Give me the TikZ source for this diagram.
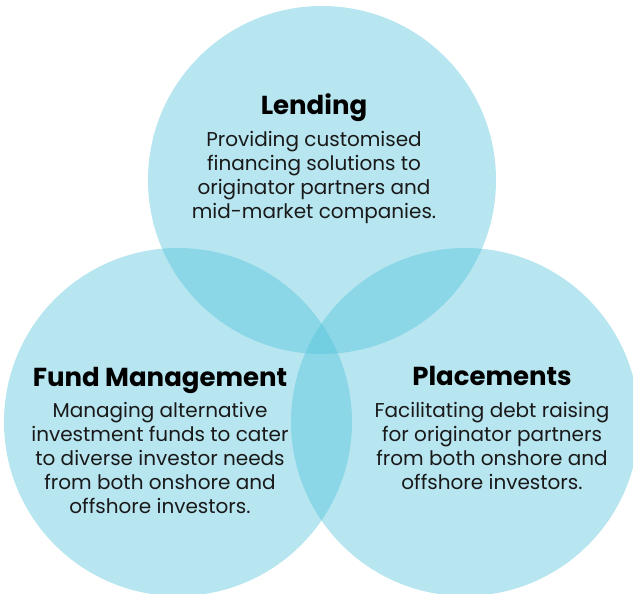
\documentclass[tikz,border=0pt]{standalone}
\usepackage{fontspec}
\setmainfont{Poppins}
\usetikzlibrary{positioning}
\definecolor{vennBlue}{RGB}{75,192,217}
\definecolor{vennInk}{RGB}{25,25,25}

\tikzset{
  venn/.style={circle, fill=vennBlue, fill opacity=0.4, minimum size=348pt, inner sep=0pt},
  areaTitle/.style={font=\fontsize{26}{28}\selectfont\bfseries, text=black, inner sep=0pt, anchor=base},
  areaText/.style={font=\fontsize{20}{23.8}\selectfont, align=center, text=vennInk, inner sep=0pt}
}

\begin{document}
\begin{tikzpicture}[x=1pt, y=-1pt]
  \useasboundingbox (0,0) rectangle (633,594);
  \clip (0,0) rectangle (633,594);

  % Circles
  \node[venn] (lendCircle) at (322,180) {};
  \node[venn] (fundCircle) at (178,422) {};
  \node[venn] (placeCircle) at (465,422) {};

  % Lending
  \node[areaTitle] (lendTitle) at (314,114) {Lending};
  \node[areaText, below=17.5pt of lendTitle.base] (lendText) {Providing customised\\financing solutions to\\originator partners and\\mid-market companies.};

  % Fund Management
  \node[areaTitle] (fundTitle) at (160,386) {Fund Management};
  \node[areaText, below=16.5pt of fundTitle.base] (fundText) {Managing alternative\\investment funds to cater\\to diverse investor needs\\from both onshore and\\offshore investors.};

  % Placements
  \node[areaTitle] (placeTitle) at (492,385) {Placements};
  \node[areaText, below=17.5pt of placeTitle.base] (placeText) {Facilitating debt raising\\for originator partners\\from both onshore and\\offshore investors.};
\end{tikzpicture}
\end{document}
